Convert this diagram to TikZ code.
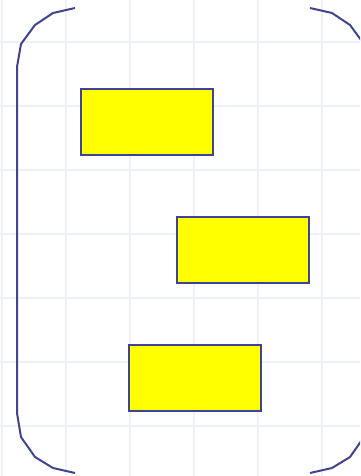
\documentclass[tikz,border=0pt]{standalone}
\begin{document}
\begin{tikzpicture}[x=1pt,y=-1pt,
  gridline/.style={draw=gridc,line width=1.5pt},
  bracket/.style={draw=linec,line width=2pt,line join=round},
  ybox/.style={draw=linec,fill=boxc,line width=1.8pt}]
\definecolor{gridc}{HTML}{EFF1FA}
\definecolor{linec}{HTML}{3F4590}
\definecolor{boxc}{RGB}{255,255,0}
\useasboundingbox (0,0) rectangle (360,476);
\clip (0,0) rectangle (360,476);
\foreach \x in {2,66,130,194,258,322} \draw[gridline] (\x,0) -- (\x,476);
\foreach \y in {42,106,170,234,298,362,426} \draw[gridline] (0,\y) -- (360,\y);
\draw[bracket] (75,8) -- (53,13) -- (35,25) -- (21,44) -- (17,67) -- (17,413) -- (21,437) -- (35,457) -- (53,468) -- (75,473);
\draw[bracket] (310,8) -- (332,13) -- (350,25) -- (364,44) -- (368,67) -- (368,413) -- (364,437) -- (350,457) -- (332,468) -- (310,473);
\draw[ybox] (81,89) rectangle (213,155);
\draw[ybox] (177,217) rectangle (309,283);
\draw[ybox] (129,345) rectangle (261,411);
\end{tikzpicture}
\end{document}
